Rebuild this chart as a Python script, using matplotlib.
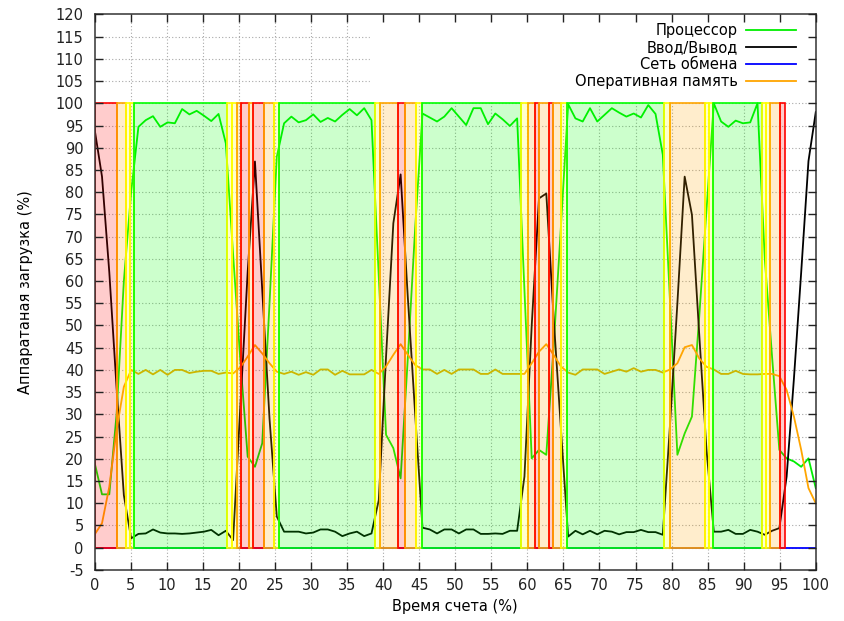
import numpy as np
import matplotlib
matplotlib.use("Agg")
import matplotlib.pyplot as plt
from matplotlib.colors import to_rgba

#---------- Data (100 samples over 0..100 % of run time) ----------#

cpu = [19, 12, 12, 30, 60, 80, 94.7, 96.2, 97.1, 94.7,
       95.7, 95.5, 98.7, 97.5, 98.3, 97.2, 96.0, 97.6, 91.0, 66,
       42, 20.5, 18.2, 23.5, 55, 88, 95.5, 97.0, 95.7, 96.2,
       97.5, 95.8, 96.7, 95.9, 97.4, 98.7, 97.3, 98.9, 96.2, 61,
       25.4, 22.4, 15.6, 43, 72, 97.7, 96.8, 95.9, 97.0, 98.9,
       97.0, 95.1, 98.9, 98.9, 95.3, 97.7, 96.4, 94.9, 96.6, 58,
       20.1, 22.0, 20.9, 45, 72, 99.8, 96.6, 95.9, 98.9, 95.9,
       97.4, 98.9, 97.9, 97.0, 97.7, 96.8, 99.6, 97.6, 88.4, 55,
       20.9, 25.7, 29.5, 52, 76, 100, 95.9, 94.7, 96.1, 95.5,
       95.7, 100, 65, 43, 22, 20.1, 19.4, 18.2, 20.1, 13.4]

io = [94, 83.5, 62, 36, 11.8, 2.1, 3.1, 3.2, 4.1, 3.4,
      3.2, 3.2, 3.1, 3.2, 3.4, 3.6, 4.0, 2.8, 3.8, 1.7,
      32, 62, 86.9, 58, 29, 7, 3.6, 3.6, 3.6, 3.2,
      3.4, 4.1, 4.1, 3.6, 2.6, 3.2, 3.6, 2.6, 3.2, 10.7,
      43, 73, 84, 56, 30, 4.5, 4.1, 3.2, 4.1, 4.1,
      3.2, 4.1, 4.1, 3.1, 3.1, 3.2, 3.1, 3.8, 3.8, 16,
      50, 78.6, 79.7, 52, 27, 2.5, 3.8, 3.0, 3.8, 3.0,
      3.8, 3.6, 3.0, 3.5, 3.5, 4.0, 3.5, 3.5, 2.9, 28,
      55, 83.5, 74.9, 48, 22, 3.6, 3.6, 4.0, 3.1, 3.1,
      4.0, 3.6, 2.9, 3.8, 4.4, 16, 38, 62, 87, 98]

net = [0] * 100

mem = [3, 5.5, 13.7, 26.5, 36.2, 40, 39.1, 40, 39, 40,
       38.9, 40, 40, 39.3, 39.6, 39.8, 39.8, 39.1, 39.4, 39.2,
       40.6, 43, 45.6, 43.7, 41.5, 39.6, 39.1, 39.6, 38.9, 39.5,
       38.9, 40.1, 40.1, 38.9, 39.8, 39, 39, 39, 40, 39.1,
       40.8, 43.4, 45.8, 43.4, 41.1, 40.1, 40.1, 39.1, 40, 39.1,
       40.1, 40.1, 40.1, 39.1, 39.1, 40.1, 39.1, 39.1, 39.1, 39.1,
       41.5, 44.1, 45.8, 43.4, 40.8, 39.4, 38.9, 40.1, 40.1, 40.1,
       39.1, 39.6, 40.1, 39.6, 40.4, 39.6, 40, 40, 39.4, 40.1,
       41.5, 45.1, 45.6, 42.6, 40.7, 40.1, 39.1, 39.1, 39.8, 39.1,
       39, 39, 39.1, 39.1, 38.6, 35.5, 29.5, 22, 13.4, 10]

t = np.linspace(0, 100, len(cpu))

# dominant-resource intervals (start %, end %, state)
band_start = [0, 3.05, 4.3, 4.9, 5.5, 18.3, 19.0, 19.7, 20.3, 21.4, 22.0, 23.5, 24.9,
              25.6, 38.9, 39.5, 42.0, 43.0, 44.55, 45.4, 59.1, 60.1, 61.0, 61.6,
              63.05, 63.6, 64.6, 65.5, 79.0, 79.8, 84.6, 85.2, 85.8, 92.5, 93.1,
              93.7, 95.05]
band_end = [3.05, 4.3, 4.9, 5.5, 18.3, 19.0, 19.7, 20.3, 21.4, 22.0, 23.5, 24.9, 25.6,
            38.9, 39.5, 42.0, 43.0, 44.55, 45.4, 59.1, 60.1, 61.0, 61.6, 63.05,
            63.6, 64.6, 65.5, 79.0, 79.8, 84.6, 85.2, 85.8, 92.5, 93.1, 93.7,
            95.05, 95.75]
band_state = ['io', 'mem', 'mix', 'mix', 'cpu', 'mix', 'mix', 'mem', 'io', 'mem', 'io', 'mem', 'mix',
              'cpu', 'mix', 'mem', 'io', 'mem', 'mix', 'cpu', 'mix', 'mem', 'io', 'mem',
              'io', 'mem', 'mix', 'cpu', 'mix', 'mem', 'mix', 'mix', 'cpu', 'mix', 'mix',
              'mem', 'io']

state_color = {'cpu': '#00ff00', 'io': '#ff0000', 'mem': '#ffa500', 'mix': '#ffff00'}

labels = ['Процессор', 'Ввод/Вывод', 'Сеть обмена', 'Оперативная память']
line_colors = ['#00ee00', '#000000', '#0000ff', '#ffa500']

#---------- Plot ----------#

plt.rcParams['font.family'] = ['DejaVu Sans']
plt.rcParams['axes.unicode_minus'] = False

fig = plt.figure(figsize=(8.45, 6.21), dpi=100)
ax = fig.add_axes([0.1121, 0.0823, 0.8533, 0.8945])

# dotted grid drawn by hand so the key box can hide part of it
for v in range(5, 100, 5):
    ax.axvline(v, color='#a8a8a8', lw=0.8, ls=(0, (1, 2)), zorder=0.5)
for h in range(0, 120, 5):
    ax.axhline(h, color='#a8a8a8', lw=0.8, ls=(0, (1, 2)), zorder=0.5)
ax.axhspan(100.5, 120, xmin=0.382, xmax=1, color='white', zorder=0.8)

for y, lab, c in zip([cpu, io, net, mem], labels, line_colors):
    ax.plot(t, y, color=c, lw=1.3, label=lab, zorder=1.2)

widths = np.subtract(band_end, band_start)
ax.bar(band_start, 100, width=widths, align='edge',
       color=[to_rgba(state_color[s], 0.2) for s in band_state],
       edgecolor=[state_color[s] for s in band_state], linewidth=1.2, zorder=1.4)

ax.set_xlim(0, 100)
ax.set_ylim(-5, 120)
ax.set_xticks(range(0, 101, 5))
ax.set_yticks(range(-5, 121, 5))
ax.set_axisbelow(False)
ax.tick_params(direction='in', top=True, right=True, length=6, width=1,
               labelsize=10.5, colors='#222222')
ax.tick_params(axis='y', pad=8)
ax.tick_params(axis='x', pad=6)
for s in ax.spines.values():
    s.set_color('#333333')
    s.set_linewidth(1.1)

ax.set_xlabel('Время счета (%)', fontsize=10.5)
ax.set_ylabel('Аппаратаная загрузка (%)', fontsize=10.5)
ax.xaxis.set_label_coords(0.5, -0.052)
ax.yaxis.set_label_coords(-0.086, 0.5)

leg = ax.legend(loc='upper right', bbox_to_anchor=(0.9727, 0.985), markerfirst=False,
                frameon=False, fontsize=10.5, handlelength=3.4, handletextpad=0.6,
                labelspacing=0.15, borderaxespad=0, borderpad=0)
leg.set_zorder(5)

plt.savefig("out.png")
